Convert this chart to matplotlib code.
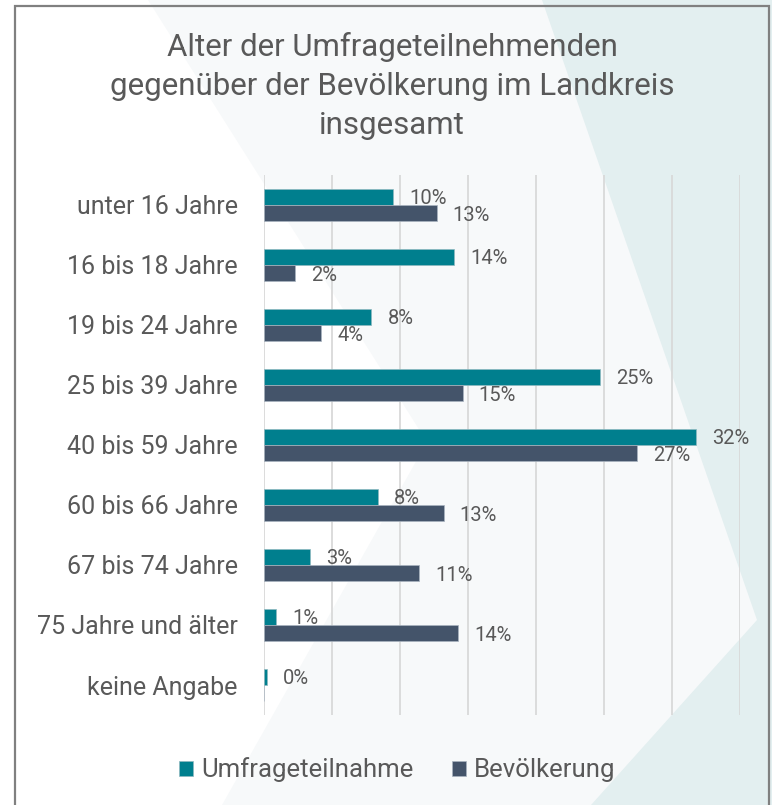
import numpy as np
import matplotlib.pyplot as plt
from matplotlib.patches import Polygon, Rectangle

plt.rcParams['font.family'] = ['Roboto', 'DejaVu Sans']

# data
categories = ['unter 16 Jahre', '16 bis 18 Jahre', '19 bis 24 Jahre', '25 bis 39 Jahre',
              '40 bis 59 Jahre', '60 bis 66 Jahre', '67 bis 74 Jahre', '75 Jahre und älter',
              'keine Angabe']
umfrage = [9.5, 14.0, 7.9, 24.7, 31.8, 8.4, 3.4, 0.9, 0.2]
bevoelkerung = [12.7, 2.3, 4.2, 14.6, 27.4, 13.2, 11.4, 14.3, None]
series_names = ['Umfrageteilnahme', 'Bevölkerung']
title = 'Alter der Umfrageteilnehmenden\ngegenüber der Bevölkerung im Landkreis\ninsgesamt'

teal = '#007f8e'
slate = '#44546a'
txt = '#595959'

W, H = 772, 805
fig = plt.figure(figsize=(W / 100, H / 100), dpi=100)

def px(pts):
    # pixel coords (y from top) -> figure fraction
    return [(x / W, 1 - y / H) for x, y in pts]

# background shapes
fig.patches.append(Rectangle((0, 0), 1, 1, transform=fig.transFigure,
                             facecolor='#f7f9fa', edgecolor='none', zorder=-3))
fig.patches.append(Polygon(px([(0, 0), (148, 0), (427, 442), (222, 805), (0, 805)]),
                           transform=fig.transFigure, facecolor='white',
                           edgecolor='none', zorder=-2))
fig.patches.append(Polygon(px([(542, 0), (757, 620), (591, 805), (W, 805), (W, 0)]),
                           transform=fig.transFigure, facecolor='#e3eff0',
                           edgecolor='none', zorder=-2))
fig.patches.append(Rectangle((15 / W, -0.05), (769 - 15) / W, (1 - 6 / H) + 0.05,
                             transform=fig.transFigure, facecolor='none',
                             edgecolor='#808080', linewidth=1.6, zorder=-1))

ax = fig.add_axes([264 / W, (H - 715) / H, 476 / W, 540 / H])
ax.patch.set_visible(False)

y = np.arange(len(categories))
h = 0.27
u = np.array(umfrage, dtype=float)
b = np.array([v if v is not None else np.nan for v in bevoelkerung], dtype=float)

ax.barh(y - h / 2, u, height=h, color=teal, edgecolor='#8fb9c0', linewidth=0.5,
        label=series_names[0], zorder=3)
ax.barh(y + h / 2, np.nan_to_num(b), height=h, color=slate, edgecolor='#a9b4c0',
        linewidth=0.5, label=series_names[1], zorder=3)

for i in range(len(categories)):
    ax.annotate(f'{u[i]:.0f}%', (u[i], y[i] - h / 2), xytext=(16, -2),
                textcoords='offset pixels', ha='left', va='center',
                fontsize=14.5, color=txt, zorder=4)
    if not np.isnan(b[i]):
        ax.annotate(f'{b[i]:.0f}%', (b[i], y[i] + h / 2), xytext=(16, -2),
                    textcoords='offset pixels', ha='left', va='center',
                    fontsize=14.5, color=txt, zorder=4)

ax.set_xlim(0, 35)
ax.set_ylim(len(categories) - 0.5, -0.5)
ax.set_xticks(np.arange(0, 36, 5))
ax.xaxis.grid(True, color='#d9d9d9', linewidth=1.3, zorder=0)
ax.tick_params(axis='x', bottom=False, labelbottom=False)
ax.set_yticks(y)
ax.set_yticklabels(categories, fontsize=18, color=txt)
ax.tick_params(axis='y', length=0, pad=19)
for s in ax.spines.values():
    s.set_visible(False)

fig.text(392 / W, 1 - 86 / H, title, ha='center', va='center', fontsize=22.5,
         color=txt, linespacing=1.42)

fig.legend(loc='center', bbox_to_anchor=(397 / W, 35 / H), ncol=2, frameon=False,
           fontsize=18.5, labelcolor=txt, handlelength=0.55, handleheight=0.55,
           handletextpad=0.3, columnspacing=1.5)

fig.savefig('out.png', dpi=100)
